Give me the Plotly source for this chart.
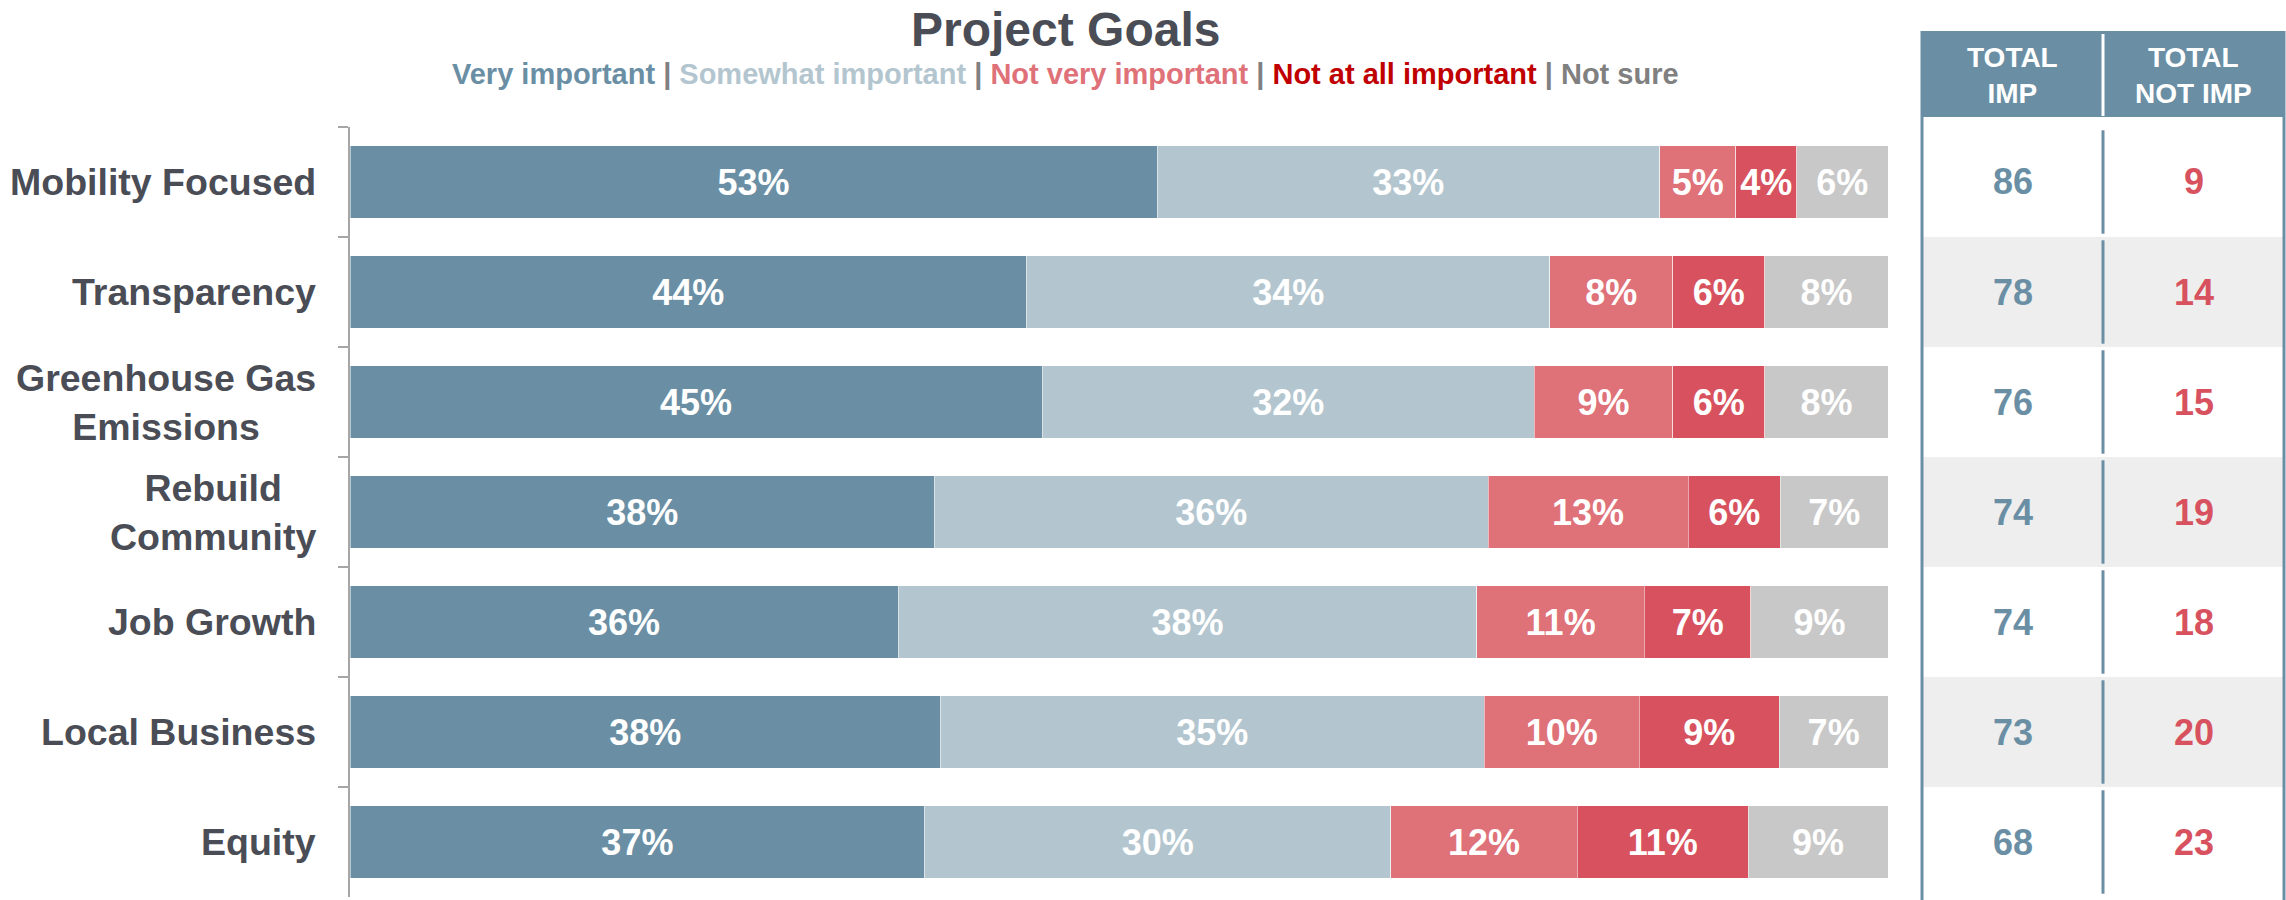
import plotly.graph_objects as go

W, H = 2286, 900
FONT = "Liberation Sans, Arial, sans-serif"
DARK = "#4a4d55"

categories = [
    "Mobility Focused",
    "Transparency",
    "Greenhouse Gas<br>Emissions",
    "Rebuild<br>Community",
    "Job Growth",
    "Local Business",
    "Equity",
]
very_important = [53, 44, 45, 38, 36, 38, 37]
somewhat_important = [33, 34, 32, 36, 38, 35, 30]
not_very_important = [5, 8, 9, 13, 11, 10, 12]
not_at_all_important = [4, 6, 6, 6, 7, 9, 11]
not_sure = [6, 8, 8, 7, 9, 7, 9]
total_imp = [86, 78, 76, 74, 74, 73, 68]
total_not_imp = [9, 14, 15, 19, 18, 20, 23]

series = [
    ("Very important", very_important, "#6a8fa5", "#6a8fa5"),
    ("Somewhat important", somewhat_important, "#b3c6cf", "#b3c6cf"),
    ("Not very important", not_very_important, "#df7179", "#df7179"),
    ("Not at all important", not_at_all_important, "#d7525e", "#c00000"),
    ("Not sure", not_sure, "#c8c8c8", "#808080"),
]


def px_x(p):
    return p / W


def px_y(p):
    return 1 - p / H


fig = go.Figure()
for name, values, color, _ in series:
    fig.add_trace(
        go.Bar(
            y=categories,
            x=values,
            name=name,
            orientation="h",
            marker=dict(color=color, line=dict(color="rgba(255,255,255,0.5)", width=1)),
            text=[f"{v}%" for v in values],
            texttemplate="<b>%{text}</b>",
            textposition="inside",
            insidetextanchor="middle",
            textangle=0,
            textfont=dict(family=FONT, size=36, color="white"),
            width=0.66,
        )
    )

annotations = []
# title and coloured legend line
annotations.append(dict(
    text="<b>Project Goals</b>", x=px_x(1065), y=px_y(29), xref="paper", yref="paper",
    showarrow=False, xanchor="center", yanchor="middle",
    font=dict(family=FONT, size=48, color=DARK),
))
sep = " <span style='color:#808080'>|</span> "
legend_text = sep.join(
    f"<span style='color:{tc}'>{name}</span>" for name, _, _, tc in series
)
annotations.append(dict(
    text=f"<b>{legend_text}</b>", x=px_x(1065), y=px_y(74), xref="paper", yref="paper",
    showarrow=False, xanchor="center", yanchor="middle",
    font=dict(family=FONT, size=29),
))

# category labels (centered multi-line)
for cat in categories:
    annotations.append(dict(
        text=f"<b>{cat}</b>", x=px_x(318), y=cat, xref="paper", yref="y",
        showarrow=False, xanchor="right", yanchor="middle", align="center",
        font=dict(family=FONT, size=37.5, color=DARK),
    ))

# side table
tbl_l, tbl_m, tbl_r = 1922, 2103, 2284
tbl_top, hdr_bot = 31, 117
shapes = []
shapes.append(dict(type="rect", xref="paper", yref="paper",
                   x0=px_x(tbl_l), x1=px_x(tbl_r), y0=px_y(hdr_bot), y1=px_y(tbl_top),
                   fillcolor="#6a8fa5", line=dict(width=0), layer="below"))
for i in range(len(categories)):
    if i % 2 == 1:
        shapes.append(dict(type="rect", xref="paper", yref="y",
                           x0=px_x(tbl_l), x1=px_x(tbl_r), y0=i - 0.5, y1=i + 0.5,
                           fillcolor="#eeeeee", line=dict(width=0), layer="below"))
    shapes.append(dict(type="line", xref="paper", yref="y",
                       x0=px_x(tbl_m), x1=px_x(tbl_m), y0=i - 0.47, y1=i + 0.47,
                       line=dict(color="#6a8fa5", width=3)))
shapes.append(dict(type="line", xref="paper", yref="paper",
                   x0=px_x(tbl_m), x1=px_x(tbl_m), y0=px_y(hdr_bot - 1), y1=px_y(tbl_top + 3),
                   line=dict(color="white", width=3)))
for xb in (tbl_l, tbl_r):
    shapes.append(dict(type="line", xref="paper", yref="paper",
                       x0=px_x(xb), x1=px_x(xb), y0=0, y1=px_y(tbl_top),
                       line=dict(color="#6a8fa5", width=3)))

c1 = (tbl_l + tbl_m) / 2
c2 = (tbl_m + tbl_r) / 2
for cx, label in ((c1, "TOTAL<br>IMP"), (c2, "TOTAL<br>NOT IMP")):
    annotations.append(dict(
        text=f"<b>{label}</b>", x=px_x(cx), y=px_y(75), xref="paper", yref="paper",
        showarrow=False, xanchor="center", yanchor="middle", align="center",
        font=dict(family=FONT, size=28, color="white"),
    ))
for cat, a, b in zip(categories, total_imp, total_not_imp):
    annotations.append(dict(
        text=f"<b>{a}</b>", x=px_x(c1), y=cat, xref="paper", yref="y",
        showarrow=False, xanchor="center", yanchor="middle",
        font=dict(family=FONT, size=36, color="#6a8fa5"),
    ))
    annotations.append(dict(
        text=f"<b>{b}</b>", x=px_x(c2), y=cat, xref="paper", yref="y",
        showarrow=False, xanchor="center", yanchor="middle",
        font=dict(family=FONT, size=36, color="#d7525e"),
    ))

fig.update_layout(
    width=W,
    height=H,
    barmode="stack",
    barnorm="percent",
    showlegend=False,
    paper_bgcolor="white",
    plot_bgcolor="white",
    margin=dict(l=0, r=0, t=0, b=0),
    xaxis=dict(domain=[px_x(350), px_x(1888)], range=[0, 100], visible=False, fixedrange=True),
    yaxis=dict(
        domain=[px_y(897), px_y(127)],
        categoryorder="array",
        categoryarray=categories,
        range=[len(categories) - 0.5, -0.5],
        showticklabels=False,
        showline=True,
        linecolor="#a6a6a6",
        linewidth=1.5,
        ticks="outside",
        tickson="boundaries",
        ticklen=10,
        tickcolor="#a6a6a6",
        tickwidth=1.5,
        showgrid=False,
        zeroline=False,
    ),
    annotations=annotations,
    shapes=shapes,
)

# drop the browser's default body margin so the figure sits at the page origin
fig.write_html(
    "out.html",
    config={"displayModeBar": False},
    post_script="document.body.style.margin = '0';",
)
